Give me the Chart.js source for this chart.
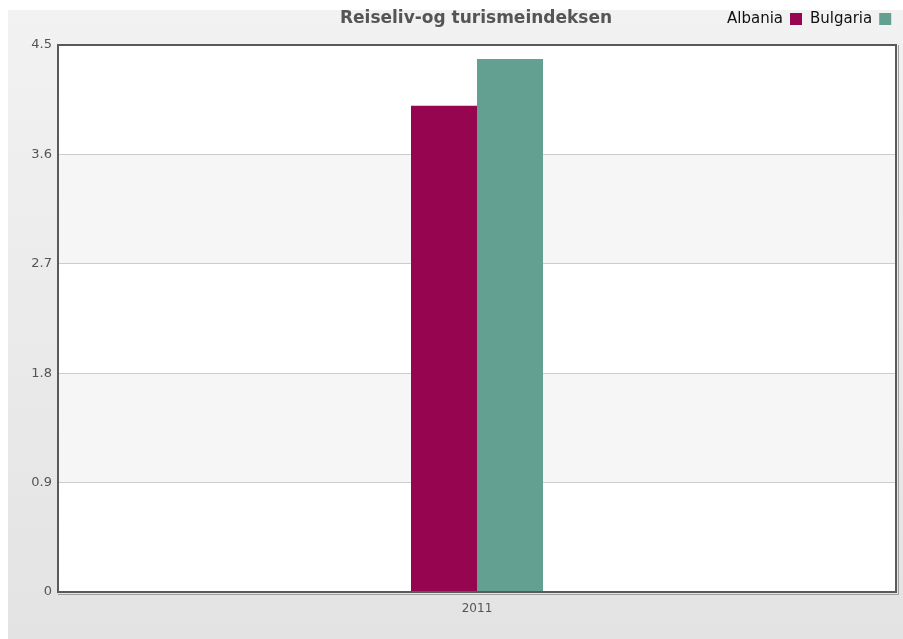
<!DOCTYPE html>
<html>
<head>
<meta charset="utf-8">
<script src="https://cdn.jsdelivr.net/npm/chart.js@4.4.1/dist/chart.umd.min.js"></script>
<style>
html,body{margin:0;padding:0;background:#fff;}
#wrap{position:relative;width:903px;height:639px;}
</style>
</head>
<body>
<div id="wrap"><canvas id="c" width="903" height="639"></canvas></div>
<script>
const titleText = 'Reiseliv-og turismeindeksen';
const categories = ['2011'];
const seriesNames = ['Albania', 'Bulgaria'];
const albaniaValues = [4.0];
const bulgariaValues = [4.385];
const seriesColors = ['#960650', '#63a092'];
const yTickLabels = ['0', '0.9', '1.8', '2.7', '3.6', '4.5'];
const yMin = 0, yMax = 4.5, yStep = 0.9;

const BG_LEFT = 8, BG_TOP = 10;

const decor = {
  id: 'decor',
  beforeDraw(chart) {
    const ctx = chart.ctx, W = chart.width, H = chart.height;
    ctx.save();
    ctx.fillStyle = '#ffffff';
    ctx.fillRect(0, 0, W, H);
    const g = ctx.createLinearGradient(0, BG_TOP, 0, H);
    g.addColorStop(0, '#f2f2f2');
    g.addColorStop(1, '#e3e3e3');
    ctx.fillStyle = g;
    ctx.fillRect(BG_LEFT, BG_TOP, W - BG_LEFT, H - BG_TOP);
    const a = chart.chartArea, y = chart.scales.y;
    ctx.fillStyle = '#ffffff';
    ctx.fillRect(a.left, a.top, a.right - a.left, a.bottom - a.top);
    // alternating bands
    const ticks = y.ticks;
    for (let i = 0; i < ticks.length - 1; i++) {
      if (i % 2 === 1) {
        const y0 = y.getPixelForValue(ticks[i].value);
        const y1 = y.getPixelForValue(ticks[i + 1].value);
        ctx.fillStyle = '#f6f6f6';
        ctx.fillRect(a.left, y1, a.right - a.left, y0 - y1);
      }
    }
    // title
    ctx.fillStyle = '#555555';
    ctx.font = 'bold 17px "DejaVu Sans"';
    ctx.textAlign = 'center';
    ctx.textBaseline = 'middle';
    ctx.fillText(titleText, 476, 19);
    // legend (text then box)
    ctx.font = '15px "DejaVu Sans"';
    ctx.textAlign = 'left';
    let x = 727;
    chart.data.datasets.forEach((ds, i) => {
      ctx.fillStyle = '#111111';
      ctx.fillText(ds.label, x, 19);
      x += ctx.measureText(ds.label).width + 7;
      ctx.fillStyle = ds.backgroundColor;
      ctx.fillRect(x, 13, 12, 12);
      x += 12 + 8;
    });
    ctx.restore();
  },
  afterDatasetsDraw(chart) {
    const ctx = chart.ctx, a = chart.chartArea;
    ctx.save();
    ctx.strokeStyle = '#a0a0a0';
    ctx.lineWidth = 1;
    ctx.beginPath();
    ctx.moveTo(a.right + 2.5, a.top);
    ctx.lineTo(a.right + 2.5, a.bottom + 2.5);
    ctx.lineTo(a.left, a.bottom + 2.5);
    ctx.stroke();
    ctx.strokeStyle = '#5a5a5a';
    ctx.lineWidth = 2;
    ctx.strokeRect(a.left, a.top, a.right - a.left, a.bottom - a.top);
    ctx.restore();
  }
};

new Chart(document.getElementById('c'), {
  type: 'bar',
  data: {
    labels: categories,
    datasets: [
      { label: seriesNames[0], data: albaniaValues, backgroundColor: seriesColors[0], borderWidth: 0 },
      { label: seriesNames[1], data: bulgariaValues, backgroundColor: seriesColors[1], borderWidth: 0 }
    ]
  },
  options: {
    responsive: false,
    animation: false,
    devicePixelRatio: 1,
    layout: { padding: { left: 8, top: 45, right: 7, bottom: 0 } },
    plugins: {
      legend: { display: false },
      title: { display: false },
      tooltip: { enabled: false }
    },
    datasets: { bar: { barPercentage: 1, categoryPercentage: 0.1575 } },
    scales: {
      x: {
        grid: { display: false, drawTicks: false },
        border: { display: false },
        ticks: { color: '#555555', font: { family: 'DejaVu Sans', size: 12 }, padding: 10 },
        afterFit(s) { s.height = 47; }
      },
      y: {
        min: yMin, max: yMax,
        grid: { color: '#cccccc', lineWidth: 1, drawTicks: false },
        border: { display: false },
        ticks: {
          stepSize: yStep,
          color: '#555555',
          font: { family: 'DejaVu Sans', size: 13 },
          padding: 6,
          callback: (v, i) => yTickLabels[i]
        },
        afterFit(s) { s.width = 50; }
      }
    }
  },
  plugins: [decor]
});
</script>
</body>
</html>
